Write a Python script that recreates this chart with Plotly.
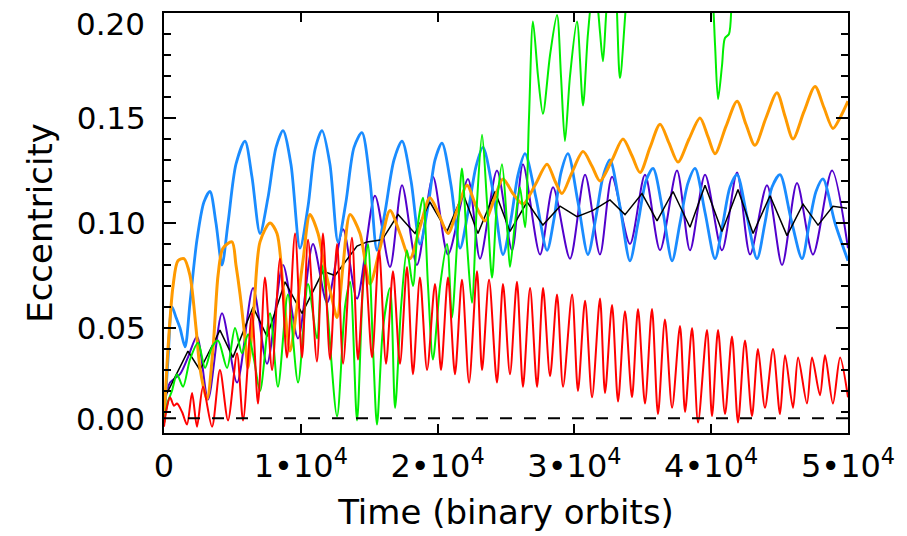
import plotly.graph_objects as go

# ---------------- data (time in binary orbits, eccentricity) ----------------
blue_t = [0, 290, 585, 880, 1170, 1540, 1900, 2410, 2920, 3360, 3800, 4240, 4680, 5260, 5920,
          6430, 7020, 7600, 8190, 8700, 9280, 9940, 10530, 11040, 11550, 12130, 12720, 13300,
          13890, 14470, 15060, 15570, 16150, 16810, 17400, 18060, 18710, 19300, 19810, 20320,
          20980, 21640, 22220, 22810, 23320, 24050, 24780, 25370, 25880, 26390, 27190, 28000,
          28510, 29020, 29530, 30260, 30990, 31580, 32090, 32600, 33330, 34060, 34650, 35230,
          35750, 36480, 37140, 37720, 38300, 38820, 39550, 40280, 40860, 41370, 41890, 42620,
          43350, 43930, 44440, 45030, 45830, 46640, 47150, 47660, 48170, 49050, 50000]
blue_e = [0.005, 0.035, 0.060, 0.055, 0.050, 0.041, 0.062, 0.092, 0.110, 0.115, 0.100, 0.080,
          0.100, 0.128, 0.139, 0.122, 0.095, 0.112, 0.136, 0.144, 0.128, 0.088, 0.108, 0.135,
          0.144, 0.128, 0.091, 0.110, 0.136, 0.143, 0.120, 0.087, 0.105, 0.130, 0.139, 0.120,
          0.090, 0.108, 0.130, 0.138, 0.118, 0.088, 0.105, 0.127, 0.136, 0.115, 0.085, 0.102,
          0.123, 0.133, 0.112, 0.087, 0.102, 0.124, 0.133, 0.110, 0.085, 0.103, 0.122, 0.130,
          0.108, 0.082, 0.100, 0.120, 0.126, 0.105, 0.082, 0.100, 0.119, 0.126, 0.105, 0.083,
          0.100, 0.117, 0.123, 0.103, 0.083, 0.100, 0.117, 0.123, 0.102, 0.083, 0.099, 0.115,
          0.121, 0.100, 0.082]

purple_t = [0, 440, 1170, 1750, 2410, 3220, 4240, 5340, 6510, 7530, 8700, 9800, 10890, 11920,
            13090, 14110, 15420, 16520, 17400, 18490, 19660, 20760, 22220, 23100, 24340, 25440,
            26240, 27490, 28440, 29680, 30780, 31870, 32750, 34060, 35160, 36260, 37500, 38450,
            39550, 40790, 41890, 42840, 44080, 45180, 46270, 47440, 48830, 50000]
purple_e = [0.012, 0.024, 0.028, 0.036, 0.046, 0.016, 0.057, 0.024, 0.069, 0.033, 0.080, 0.045,
            0.090, 0.062, 0.097, 0.064, 0.113, 0.079, 0.118, 0.080, 0.122, 0.085, 0.121, 0.083,
            0.125, 0.087, 0.128, 0.085, 0.117, 0.083, 0.123, 0.085, 0.122, 0.090, 0.123, 0.087,
            0.125, 0.087, 0.123, 0.087, 0.124, 0.085, 0.118, 0.080, 0.119, 0.085, 0.125, 0.088]

black_t = [220, 1750, 2630, 4090, 5040, 6510, 7530, 8850, 10090, 11620, 12500, 14110, 14840,
           15940, 17110, 18350, 19440, 20690, 21860, 22950, 24200, 25290, 26540, 27700, 28950,
           30190, 31360, 32600, 33700, 34940, 36040, 37210, 38450, 39550, 40790, 41960, 43060,
           44300, 45540, 46710, 47810, 48900, 49930]
black_e = [0.019, 0.039, 0.030, 0.049, 0.036, 0.060, 0.046, 0.072, 0.057, 0.077, 0.075, 0.089,
           0.091, 0.092, 0.104, 0.095, 0.110, 0.096, 0.114, 0.095, 0.115, 0.096, 0.110, 0.099,
           0.108, 0.103, 0.106, 0.111, 0.104, 0.114, 0.101, 0.115, 0.098, 0.118, 0.096, 0.116,
           0.095, 0.113, 0.094, 0.109, 0.099, 0.108, 0.107]

orange_t = [0, 290, 660, 1020, 1460, 1900, 2340, 2630, 3140, 3580, 3950, 4310, 4970, 5260, 5560,
            5920, 6140, 6580, 7020, 7750, 8260, 8700, 9210, 9720, 10160, 10670, 11260, 11770,
            12210, 12650, 13090, 13600, 14330, 15060, 15790, 16520, 17250, 17980, 18710, 19440,
            20100, 20760, 21420, 22150, 22810, 23470, 24120, 24780, 25510, 26240, 27120, 28000,
            28580, 29090, 29820, 30630, 31290, 31870, 32750, 33550, 34210, 34800, 35530, 36260,
            36920, 37570, 38380, 39180, 39770, 40280, 41080, 41890, 42540, 43200, 44000, 44810,
            45390, 45980, 46780, 47590, 48240, 48900, 49410, 50000]
orange_e = [0.005, 0.040, 0.070, 0.082, 0.083, 0.075, 0.050, 0.031, 0.016, 0.040, 0.075, 0.088,
            0.091, 0.080, 0.066, 0.045, 0.031, 0.060, 0.091, 0.100, 0.095, 0.070, 0.039, 0.060,
            0.082, 0.104, 0.095, 0.078, 0.066, 0.055, 0.080, 0.104, 0.095, 0.071, 0.088, 0.106,
            0.095, 0.083, 0.098, 0.112, 0.104, 0.095, 0.106, 0.118, 0.108, 0.101, 0.111, 0.121,
            0.114, 0.109, 0.118, 0.128, 0.120, 0.114, 0.124, 0.134, 0.127, 0.120, 0.130, 0.140,
            0.132, 0.124, 0.136, 0.147, 0.138, 0.129, 0.140, 0.150, 0.141, 0.133, 0.146, 0.158,
            0.147, 0.137, 0.150, 0.162, 0.151, 0.140, 0.153, 0.165, 0.155, 0.145, 0.150, 0.158]

green_t = [0, 290, 580, 950, 1390, 1900, 2490, 3000, 3510, 3950, 4610, 5190, 5700, 6140, 6580,
           7020, 7750, 8330, 9060, 9800, 10530, 11180, 11550, 11920, 12650, 13230, 13600, 14110,
           14550, 14910, 15280, 15570, 16010, 16520, 16890, 17330, 17760, 18200, 18570, 18930,
           19300, 19660, 20180, 20690, 21050, 21420, 21780, 22150, 22510, 22880, 23250, 23610,
           23980, 24340, 24710, 25070, 25290, 25660, 26020, 26390, 26680, 26970, 27340, 27700,
           28220, 28730, 29020, 29310, 29680, 30190, 30630, 30990, 31360, 31650, 31870, 32090,
           32460, 32900, 33330, 33850, 34800, 36260, 37720, 39180, 40060, 40280, 40500, 40790,
           41000, 41300, 41520, 42110, 45030, 50000]
green_e = [0.005, 0.015, 0.020, 0.028, 0.022, 0.035, 0.043, 0.031, 0.041, 0.044, 0.031, 0.050,
           0.038, 0.047, 0.035, 0.020, 0.057, 0.022, 0.066, 0.024, 0.071, 0.045, 0.080, 0.060,
           0.008, 0.060, 0.072, 0.006, 0.070, 0.090, 0.040, 0.004, 0.050, 0.069, 0.012, 0.060,
           0.087, 0.070, 0.100, 0.112, 0.070, 0.035, 0.070, 0.090, 0.055, 0.090, 0.126, 0.090,
           0.062, 0.110, 0.142, 0.110, 0.074, 0.110, 0.128, 0.100, 0.079, 0.100, 0.117, 0.098,
           0.150, 0.196, 0.170, 0.152, 0.180, 0.199, 0.170, 0.139, 0.170, 0.196, 0.156, 0.190,
           0.210, 0.205, 0.191, 0.177, 0.210, 0.220, 0.169, 0.210, 0.260, 0.280, 0.270, 0.240,
           0.210, 0.185, 0.159, 0.175, 0.188, 0.190, 0.210, 0.260, 0.300, 0.320]

red_t = [0, 150, 440, 730, 950, 1320, 1680, 2050, 2410, 2850, 3510, 4090, 4680, 5340, 5780,
         6430, 6870, 7380, 7900, 8480, 8990, 9580, 10090, 10530, 11180, 11620, 12140, 12650,
         13090, 13740, 14180, 14690, 15210, 15720, 16230, 16740, 17250, 17760, 18200, 18710,
         19230, 19810, 20250, 20760, 21270, 21780, 22300, 22880, 23250, 23760, 24340, 24780,
         25290, 25800, 26240, 26760, 27270, 27710, 28220, 28730, 29170, 29830, 30260, 30780,
         31290, 31870, 32240, 32750, 33190, 33700, 34210, 34650, 35160, 35670, 36110, 36620,
         37140, 37720, 38090, 38600, 39040, 39690, 40060, 40500, 41010, 41520, 41960, 42470,
         42980, 43420, 43930, 44520, 45030, 45400, 45980, 46350, 47000, 47370, 47950, 48320,
         48900, 49420, 50000]
red_e = [0.003, 0.010, 0.017, 0.013, 0.014, 0.010, 0.004, 0.019, 0.003, 0.022, 0.003, 0.030,
         0.006, 0.038, 0.006, 0.057, 0.014, 0.074, 0.030, 0.083, 0.036, 0.095, 0.036, 0.092,
         0.034, 0.095, 0.035, 0.090, 0.033, 0.093, 0.035, 0.080, 0.036, 0.087, 0.033, 0.077,
         0.033, 0.079, 0.028, 0.074, 0.030, 0.071, 0.030, 0.074, 0.028, 0.073, 0.024, 0.077,
         0.030, 0.073, 0.024, 0.071, 0.028, 0.072, 0.022, 0.069, 0.022, 0.069, 0.027, 0.066,
         0.022, 0.066, 0.020, 0.063, 0.017, 0.064, 0.019, 0.061, 0.015, 0.058, 0.017, 0.059,
         0.014, 0.059, 0.009, 0.054, 0.012, 0.051, 0.010, 0.050, 0.005, 0.049, 0.008, 0.049,
         0.009, 0.046, 0.005, 0.044, 0.008, 0.040, 0.012, 0.040, 0.009, 0.037, 0.012, 0.036,
         0.014, 0.036, 0.018, 0.037, 0.014, 0.036, 0.017]

ref_level = 0.007
x_ticks = [0, 10000, 20000, 30000, 40000, 50000]
x_ticktext = ["0", "1\u202210<sup>4</sup>", "2\u202210<sup>4</sup>", "3\u202210<sup>4</sup>",
              "4\u202210<sup>4</sup>", "5\u202210<sup>4</sup>"]
y_ticks = [0.05, 0.10, 0.15]
y_ticktext = ["0.05", "0.10", "0.15"]
y_end_vals = [0.0066, 0.195]
y_end_text = ["0.00", "0.20"]

FONT = "DejaVu Sans"

fig = go.Figure()
series = [
    (purple_t, purple_e, "#5200cc", 2, "spline"),
    (blue_t, blue_e, "#1a8cff", 2.8, "spline"),
    (black_t, black_e, "#000000", 1.5, "linear"),
    (orange_t, orange_e, "#ff9a00", 3, "spline"),
    (green_t, green_e, "#00ee00", 2, "spline"),
    (red_t, red_e, "#ff0000", 2, "spline"),
]
for t, e, c, w, shp in series:
    fig.add_trace(go.Scatter(x=t, y=e, mode="lines",
                             line=dict(color=c, width=w, shape=shp, smoothing=0.8),
                             showlegend=False, hoverinfo="skip"))

fig.add_trace(go.Scatter(x=[0, 50000], y=[ref_level, ref_level], mode="lines",
                         line=dict(color="black", width=2, dash="12px,12px"),
                         showlegend=False, hoverinfo="skip"))

fig.update_layout(
    width=907, height=536,
    margin=dict(l=164, r=59, t=11, b=103),
    paper_bgcolor="white", plot_bgcolor="white",
    font=dict(family=FONT, size=31, color="black"),
)
fig.update_xaxes(
    range=[0, 50000], tickmode="array", tickvals=x_ticks, ticktext=x_ticktext,
    ticks="inside", ticklen=9, tickwidth=2, tickcolor="black",
    showline=True, linewidth=2, linecolor="black", mirror="ticks",
    showgrid=False, zeroline=False,
    tickfont=dict(family=FONT, size=32),
    ticklabelstandoff=4,
    title=dict(text="Time (binary orbits)", font=dict(family=FONT, size=34), standoff=16),
)
fig.update_yaxes(
    range=[0, 0.2], tickmode="array", tickvals=y_ticks, ticktext=y_ticktext,
    ticks="inside", ticklen=12, tickwidth=2, tickcolor="black",
    minor=dict(dtick=0.01, tick0=0, ticks="inside", ticklen=7, tickwidth=2, tickcolor="black"),
    showline=True, linewidth=2, linecolor="black", mirror="ticks",
    showgrid=False, zeroline=False,
    tickfont=dict(family=FONT, size=31),
    ticklabelstandoff=10,
    title=dict(text="Eccentricity", font=dict(family=FONT, size=34), standoff=14),
)
# end labels of the y axis, drawn slightly inside the frame as in the original
for val, txt in zip(y_end_vals, y_end_text):
    fig.add_annotation(x=0, xref="paper", y=val, yref="y", text=txt, showarrow=False,
                       xanchor="right", yanchor="middle", xshift=-17,
                       font=dict(family=FONT, size=31, color="black"))

fig.write_html("out.html")
